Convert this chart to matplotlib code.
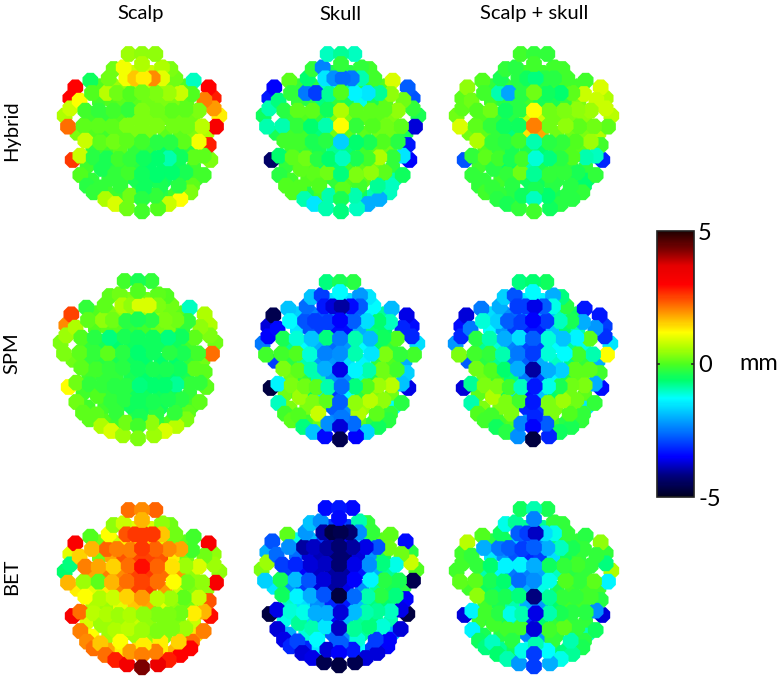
import numpy as np
import matplotlib
matplotlib.use("Agg")
import matplotlib.pyplot as plt
from matplotlib.cm import ScalarMappable
from matplotlib.colors import LinearSegmentedColormap, Normalize

plt.rcParams["font.family"] = ["Lato", "DejaVu Sans"]

row_labels = ["Hybrid", "SPM", "BET"]
col_labels = ["Scalp", "Skull", "Scalp + skull"]

# electrode positions on the head map, one line per row of electrodes
electrode_x = [
    -40, 0, 40,
    -85, -55, 0, 60, 85,
    -155, -100, -47, -20, 5, 32, 60, 100, 155,
    -150, -105, -75, -35, 0, 40, 80, 115, 150,
    -170, -130, -85, -40, 0, 45, 90, 130, 170,
    -175, -130, -90, -45, 0, 45, 95, 135, 180,
    -170, -125, -85, -45, 0, 45, 85, 125, 170,
    -145, -105, -70, -35, 5, 45, 80, 115, 155,
    -185, -120, -80, -40, 0, 45, 90, 130, 185,
    -165, -125, -65, 5, 55, 110, 150,
    -145, -110, -80, -35, 0, 40, 80, 115, 145,
    -45, 0, 48,
    -200, -215, -187, -215, -232, -222,
    200, 215, 187, 215, 232, 222,
    -208, -185, 185, 205, 200,
]
electrode_y = [
    0, 0, 0,
    45, 40, 30, 40, 45,
    80, 73, 73, 73, 73, 73, 73, 73, 80,
    117, 117, 117, 120, 115, 117, 117, 117, 120,
    170, 170, 170, 167, 170, 170, 170, 167, 170,
    215, 215, 217, 215, 215, 215, 215, 217, 217,
    260, 265, 263, 260, 263, 265, 265, 263, 263,
    310, 313, 315, 315, 313, 313, 313, 310, 310,
    363, 345, 360, 355, 360, 363, 355, 355, 363,
    395, 400, 395, 405, 395, 395, 395,
    415, 435, 450, 425, 435, 425, 450, 435, 415,
    463, 472, 463,
    100, 133, 140, 163, 185, 218,
    100, 133, 138, 163, 185, 218,
    318, 305, 305, 318, 273,
]

# electrodes mostly hidden under the others, only seen in the small gaps
hidden_x = [
    -25, 25,
    -125, -85, -45, -15, 20, 60, 95, 135,
    -128, -90, -55, -18, 20, 60, 100, 135,
    -150, -108, -65, -22, 22, 68, 112, 152,
    -195, -150, -108, -68, -22, 22, 70, 115, 158, 195,
    -148, -105, -65, -22, 22, 65, 105, 148,
    -165, -125, -90, -55, -18, 22, 65, 110, 155,
    -150, -100, -60, -20, 25, 70, 115, 160,
    -100, -60, -18, 20, 60, 100,
]
hidden_y = [
    55, 55,
    95, 95, 95, 95, 95, 95, 95, 95,
    143, 143, 143, 143, 143, 143, 143, 143,
    192, 192, 192, 192, 192, 192, 192, 192,
    238, 238, 238, 238, 238, 238, 238, 238, 238, 238,
    288, 288, 288, 288, 288, 288, 288, 288,
    338, 338, 338, 338, 338, 338, 338, 338, 338,
    378, 378, 378, 378, 378, 378, 378, 378,
    420, 420, 420, 420, 420, 420,
]

hybrid_scalp = [
    0.5, 0.4, 0.4,
    0.2, 1.1, 0.6, 0.6, 0.3,
    -0.5, 0.2, 1.1, 1.6, 1.3, 2.0, 1.0, 0.2, -1.0,
    0.0, 0.7, 0.2, 0.0, 0.2, 0.3, 0.5, 0.8, 0.0,
    -0.1, -0.2, -0.1, -0.2, 0.3, 0.2, 0.1, 0.1, 0.3,
    0.1, 0.1, 0.1, 0.3, 0.3, 0.3, 0.2, 0.2, 0.7,
    0.8, 0.1, 0.2, 0.1, -0.1, -0.3, -0.3, 0.1, 1.1,
    -0.3, -0.4, -0.1, -0.2, -0.5, -0.6, -0.9, -0.5, 0.1,
    0.0, -0.4, -0.2, -0.1, -0.5, -0.6, -0.6, -0.4, -0.1,
    -0.3, -0.2, -0.2, -0.5, -0.4, -0.3, 0.1,
    -0.2, 0.6, 0.9, 0.2, -0.3, -0.2, 0.8, 1.2, 0.3,
    0.2, -0.1, 0.0,
    3.0, 3.0, 1.2, 0.8, 0.6, 2.2,
    3.0, 2.8, 2.1, 1.9, 1.3, 3.2,
    2.6, 0.8, 0.1, 0.3, 2.8,
]
hybrid_skull = [
    -1.0, -0.8, -1.0,
    -0.2, -2.4, -0.2, -0.2, -0.1,
    0.1, -0.6, -1.5, -2.3, -2.6, -2.5, -0.9, -0.1, 0.9,
    -0.2, -2.5, -3.0, -0.8, 0.0, -1.4, -1.5, -0.8, 0.4,
    -0.3, 0.1, 0.1, -0.5, 0.6, 0.1, 0.1, 0.1, 0.4,
    -0.9, -0.2, -0.6, -0.9, 1.2, -0.2, 0.0, 0.2, 0.1,
    -0.1, -0.1, -0.4, -0.3, -1.7, -0.6, -0.4, 0.0, -0.3,
    0.1, 0.2, -0.3, -0.6, -1.0, -0.4, -0.1, 0.6, -0.2,
    -0.3, 0.1, 0.1, 0.2, -0.7, 0.3, 0.4, 0.1, -0.5,
    0.0, 0.0, 0.0, 0.1, -0.1, -0.8, -1.0,
    0.0, -0.9, -1.5, -0.9, -0.4, -0.9, -2.0, -2.0, -1.0,
    -0.9, -0.7, -1.0,
    -3.5, -3.3, -0.7, -0.9, -0.5, -0.9,
    -2.7, -2.8, 0.2, -0.2, -0.4, -3.7,
    -4.4, -0.6, -1.5, -3.5, -3.3,
]
hybrid_both = [
    -0.1, -0.2, -0.2,
    -0.2, -0.3, -0.1, -0.1, -0.1,
    0.0, -0.4, -0.3, -0.5, -0.7, -0.3, -0.3, -0.1, -0.1,
    -0.1, -0.9, -2.1, -0.3, 0.2, -0.5, -0.6, 0.1, 0.8,
    0.0, 0.2, -0.5, -0.3, 1.2, 0.2, 0.3, 0.4, 0.5,
    0.1, -0.2, -0.5, -0.5, 2.1, 0.2, 0.4, 0.1, 0.2,
    0.6, -0.2, -0.3, -0.1, -0.9, -0.3, -0.2, 0.0, 0.5,
    0.1, -0.1, -0.4, -0.1, -1.1, -0.7, -0.3, 0.0, -0.9,
    -0.2, -0.3, -0.2, 0.2, -0.8, -0.2, -0.2, -0.4, -0.2,
    -0.2, -0.2, -0.3, -0.4, -0.3, -0.3, -0.6,
    -0.1, -0.3, -0.4, -0.5, -1.0, -0.6, -0.3, -0.3, -0.2,
    -0.2, -0.1, -0.5,
    0.4, 0.1, 0.2, 0.1, 0.2, 0.9,
    0.9, 0.6, 0.8, 0.8, 0.7, 0.1,
    -2.8, -0.2, -1.0, -3.2, -0.1,
]
spm_scalp = [
    -0.1, -0.4, -0.2,
    0.1, 0.2, 0.0, 0.1, 0.0,
    -0.2, 0.1, 0.6, 0.4, 0.9, 0.9, 0.3, 0.2, -1.0,
    0.1, 0.4, 0.2, -0.3, -0.4, -0.3, 0.3, 0.2, -0.2,
    0.0, -0.3, -0.7, -0.4, -0.5, -0.5, -0.7, -0.5, 0.1,
    0.1, -0.2, 0.1, -0.3, -0.6, -0.5, -0.3, -0.4, -0.1,
    0.1, -0.1, -0.2, -0.3, -0.5, -0.4, -0.4, -0.5, 0.1,
    -0.2, -0.2, -0.3, -0.3, -0.7, -0.6, -0.6, -0.8, -0.2,
    0.2, 0.0, -0.2, -0.3, -0.5, -0.4, -0.4, -0.3, 0.1,
    0.1, 0.1, -0.2, -0.4, -0.3, -0.2, 0.1,
    0.1, 0.6, 0.9, 0.2, -0.1, 0.4, 0.9, 0.7, 0.3,
    0.5, 0.3, 0.5,
    2.5, 2.0, 0.6, 0.5, 0.3, 0.3,
    0.6, 0.6, 0.4, 0.3, 0.2, 2.2,
    1.2, 0.2, -0.2, 0.1, 0.1,
]
spm_skull = [
    -0.7, -0.4, -0.3,
    -1.8, -3.0, -1.3, -2.2, -1.5,
    -1.8, -2.6, -3.3, -3.7, -4.0, -3.4, -2.7, -1.3, -1.9,
    -1.3, -2.8, -3.0, -3.0, -3.5, -2.7, -1.6, -0.6, -1.0,
    -0.4, -1.1, -1.8, -0.7, -2.5, -0.9, -1.9, -0.5, 0.0,
    -0.1, 0.0, -1.1, -2.4, -2.3, -0.9, -1.5, 0.3, -0.2,
    0.3, 0.1, -0.9, -2.0, -3.6, -1.4, -0.9, 0.2, -0.1,
    0.3, 0.2, 0.1, -0.9, -2.6, -0.7, 0.0, 0.5, 0.7,
    -1.0, 0.5, 0.3, 0.1, -2.7, 0.4, 0.7, 0.4, -0.3,
    -0.1, 0.0, 0.8, -2.5, 0.6, 0.1, -0.2,
    0.1, -0.7, -1.8, -2.3, -3.7, -2.6, -1.7, -0.5, -0.3,
    -3.4, -4.6, -3.5,
    -4.6, -3.7, -3.4, -3.5, -2.5, -0.1,
    -3.6, -3.4, -3.2, -3.2, -1.6, -0.1,
    -4.7, -1.4, -1.8, -3.6, -1.7,
]
spm_both = [
    -0.7, -0.6, -0.5,
    -1.7, -2.8, -1.3, -2.0, -0.7,
    -2.5, -2.0, -3.0, -3.0, -3.6, -2.7, -1.2, -0.3, -3.3,
    -1.1, -1.7, -2.7, -3.0, -3.5, -3.0, -1.0, -0.4, -2.0,
    -0.3, -0.9, -2.0, -1.6, -2.7, -1.1, -1.8, -1.4, 0.1,
    -0.1, -0.2, -0.9, -2.5, -3.0, -1.1, -1.3, -0.1, -0.9,
    0.2, 0.0, -0.6, -2.0, -4.0, -2.0, -1.7, 0.1, 0.1,
    0.3, 0.3, -0.1, -1.0, -3.3, -1.2, -0.4, 0.2, 0.3,
    -0.9, 0.6, 0.3, -0.1, -3.3, 0.3, 0.5, 0.2, -0.2,
    0.0, -0.1, 0.3, -3.2, 0.3, 0.0, -0.2,
    -0.1, -0.5, -0.3, -2.4, -3.5, -2.7, -0.5, -0.4, -0.2,
    -2.3, -4.7, -3.2,
    -3.7, -3.4, -2.5, -3.2, -2.2, 0.3,
    -3.3, -3.0, -2.2, -3.1, -1.5, 1.2,
    -3.7, -0.8, -2.0, -3.4, -0.1,
]
bet_scalp = [
    2.2, 2.0, 2.3,
    0.4, 0.8, 1.7, 0.4, 0.2,
    0.0, 1.2, 2.4, 2.6, 2.6, 2.6, 1.6, 0.2, -0.1,
    1.7, 2.3, 2.1, 2.1, 2.6, 2.3, 2.0, 1.8, -0.1,
    2.1, 1.8, 1.5, 2.2, 2.9, 2.3, 1.4, 0.5, 0.9,
    0.5, 0.1, 1.7, 2.2, 2.5, 2.2, 1.2, 0.2, 0.4,
    1.2, 0.6, 0.8, 1.5, 1.9, 0.7, 0.5, 0.1, 0.8,
    0.7, 0.6, 0.5, 0.6, 0.4, 0.3, 0.3, 0.2, 1.3,
    2.1, 0.5, 0.6, 0.7, 0.5, 0.3, 0.3, 0.5, 2.1,
    2.0, 1.6, 1.2, 1.3, 1.3, 1.5, 2.2,
    2.2, 2.2, 2.8, 1.9, 2.1, 2.1, 2.8, 3.0, 3.0,
    3.3, 4.3, 3.5,
    3.1, 1.0, 1.5, -0.7, -0.6, 1.7,
    3.2, 0.4, 0.2, 0.5, 0.4, 3.2,
    3.2, 2.2, 1.7, 2.9, 2.4,
]
bet_skull = [
    -3.4, -3.3, -3.4,
    -1.8, -2.3, -3.4, -0.9, -0.2,
    0.1, -2.2, -4.0, -4.7, -4.6, -4.3, -2.3, -0.2, 0.1,
    -2.3, -4.0, -3.8, -4.0, -4.3, -4.0, -3.6, -2.8, 0.2,
    -3.0, -3.2, -3.7, -3.8, -4.3, -3.6, -2.3, -0.7, -1.2,
    -0.4, -1.9, -2.8, -3.7, -4.0, -3.5, -1.4, -0.3, -0.4,
    -0.5, -1.4, -2.0, -2.8, -4.7, -2.6, -0.9, -0.3, -0.7,
    -1.1, -1.2, -2.0, -2.0, -3.7, -1.9, -0.9, -0.8, -1.0,
    -3.7, -0.8, -0.9, -1.5, -3.8, -0.8, -0.7, -1.1, -3.7,
    -3.6, -2.9, -1.3, -2.7, -1.1, -3.0, -3.5,
    -3.2, -3.7, -3.6, -3.7, -3.5, -3.3, -3.7, -3.7, -3.5,
    -4.6, -4.7, -4.6,
    -2.8, -2.0, -2.6, 0.5, 0.3, -1.7,
    -3.4, -0.3, 0.2, 0.8, 0.0, -4.6,
    -4.7, -3.6, -3.6, -4.7, -3.5,
]
bet_both = [
    -0.5, -0.9, -0.4,
    -1.2, -0.8, -2.4, -0.2, -0.2,
    0.0, -0.5, -2.7, -3.0, -3.8, -1.6, -1.2, -0.2, -0.3,
    -2.0, -2.5, -2.7, -3.0, -2.7, -2.0, -1.0, -0.4, -0.2,
    -0.2, -0.6, -1.4, -1.4, -2.0, -0.5, -0.2, -0.1, -0.2,
    0.1, -0.4, -0.6, -2.6, -2.3, -1.2, 0.0, -0.2, 0.1,
    0.4, -0.3, -0.4, -0.7, -4.2, -0.8, -0.2, -0.2, -0.1,
    -0.1, -0.3, -1.2, -0.9, -3.6, -0.9, -0.4, -0.3, -0.3,
    -1.4, -0.1, -0.1, -0.1, -3.7, -0.1, 0.1, -0.2, -0.5,
    -0.5, -1.0, -0.3, -0.9, -0.2, -0.9, -0.3,
    -0.7, -0.6, -0.9, -1.2, -3.0, -1.3, -1.2, -0.8, -0.4,
    -2.2, -3.0, -2.0,
    0.7, -0.1, -0.2, -0.1, -0.1, 0.1,
    0.4, -0.2, -0.2, -0.7, 0.6, -1.4,
    -3.7, -1.4, -2.3, -3.7, -0.3,
]

hybrid_scalp_hidden = [
    0.8, 0.8,
    0.0, 0.5, 0.4, 0.6, 0.7, 0.5, 0.3, 0.0,
    -0.1, 0.0, 0.1, 0.1, 0.2, 0.3, 0.3, 0.1,
    -0.1, -0.2, 0.0, 0.3, 0.3, 0.2, 0.2, 0.2,
    0.3, 0.0, -0.1, 0.1, 0.3, 0.3, 0.1, 0.1, 0.3, 0.6,
    -0.2, -0.1, 0.1, -0.2, -0.2, -0.6, -0.5, -0.3,
    -0.1, -0.3, -0.3, -0.2, -0.3, -0.6, -0.6, -0.5, -0.1,
    -0.2, -0.2, -0.1, -0.4, -0.5, -0.5, -0.4, -0.1,
    -0.1, -0.1, -0.3, -0.5, -0.3, -0.1,
]
hybrid_skull_hidden = [
    -0.4, -0.3,
    -0.2, -0.3, -1.0, -1.3, -0.8, -0.3, -0.2, 0.0,
    -0.2, -0.3, -0.7, -0.2, -0.4, -1.2, -0.4, 0.1,
    -0.2, 0.0, -0.2, 0.3, 0.3, 0.1, 0.1, 0.3,
    -0.4, -0.1, -0.1, -0.7, 0.2, 0.1, 0.1, 0.2, 0.2, -0.4,
    -0.1, -0.2, -0.4, -0.8, -0.7, -0.1, 0.1, 0.2,
    -0.2, -0.1, 0.0, -0.7, -0.7, -0.1, 0.1, 0.2, -0.2,
    -0.1, 0.0, -0.1, -0.2, 0.0, 0.1, -0.2, -0.9,
    -0.4, -0.1, -0.3, -0.4, -0.5, -0.9,
]
hybrid_both_hidden = [
    -0.1, -0.1,
    -0.2, -0.2, -0.3, -0.3, -0.3, -0.2, -0.1, -0.1,
    -0.1, -0.3, -0.3, -0.1, -0.4, -0.4, -0.2, 0.3,
    0.0, -0.2, -0.3, 0.8, 0.8, 0.2, 0.3, 0.4,
    0.2, 0.1, -0.2, -0.7, 1.4, 1.8, 0.2, 0.2, 0.3, 0.6,
    0.0, -0.2, -0.4, -0.4, -0.6, -0.2, 0.0, 0.1,
    -0.1, -0.2, -0.6, -0.6, -0.9, -0.4, -0.2, -0.2, -0.2,
    -0.2, -0.1, -0.1, -0.5, -0.5, -0.3, -0.3, -0.6,
    -0.2, -0.3, -0.5, -0.7, -0.4, -0.3,
]
spm_scalp_hidden = [
    0.3, 0.2,
    0.0, 0.3, 0.5, 0.6, 0.6, 0.5, 0.2, 0.1,
    0.0, 0.1, 0.1, -0.2, -0.1, 0.2, 0.3, -0.2,
    -0.2, -0.4, -0.6, -0.5, -0.5, -0.5, -0.5, -0.1,
    0.2, -0.2, -0.3, -0.4, -0.5, -0.6, -0.6, -0.6, -0.2, 0.2,
    -0.1, -0.2, -0.2, -0.4, -0.6, -0.5, -0.6, -0.4,
    -0.1, -0.1, -0.2, -0.3, -0.5, -0.5, -0.5, -0.5, -0.2,
    -0.1, -0.1, -0.3, -0.5, -0.5, -0.5, -0.4, -0.1,
    0.0, -0.1, -0.3, -0.3, -0.2, 0.0,
]
spm_skull_hidden = [
    -1.5, -1.6,
    -1.7, -2.4, -2.8, -2.4, -2.4, -2.6, -1.3, -0.8,
    -1.5, -2.8, -3.0, -3.4, -3.4, -2.0, -0.7, -0.6,
    -0.8, -1.3, -2.0, -2.6, -2.2, -1.3, -0.6, -0.2,
    -3.0, -0.3, -0.9, -2.2, -2.2, -1.6, -1.4, -0.2, 0.0, -2.0,
    0.2, -0.2, -0.9, -2.3, -2.3, -1.1, -0.4, 0.2,
    0.2, 0.1, -0.5, -1.5, -3.0, -1.3, -0.3, 0.3, 0.2,
    0.3, 0.3, 0.1, -2.7, -2.3, 0.5, 0.4, -1.3,
    -0.1, 0.2, -2.4, -2.6, 0.1, -0.2,
]
spm_both_hidden = [
    -1.5, -1.4,
    -1.6, -2.3, -2.6, -2.2, -2.2, -1.8, -0.9, -0.5,
    -1.3, -2.2, -3.0, -3.3, -3.3, -1.8, -0.6, -0.9,
    -0.8, -1.1, -2.4, -2.9, -3.0, -1.3, -0.8, -1.2,
    -2.7, -0.3, -0.8, -2.4, -2.7, -2.0, -1.0, -0.7, -0.2, -2.0,
    0.2, -0.1, -0.7, -2.5, -3.0, -1.4, -0.4, 0.1,
    0.1, 0.1, -0.4, -1.6, -3.4, -1.8, -0.6, 0.2, 0.1,
    0.3, 0.3, 0.0, -3.2, -3.0, 0.3, 0.3, -1.5,
    -0.1, 0.0, -2.2, -3.0, -0.1, -0.3,
]
bet_scalp_hidden = [
    1.0, 0.9,
    0.2, 0.8, 1.3, 1.6, 1.6, 1.0, 0.3, 0.1,
    0.2, 1.8, 2.4, 2.5, 2.5, 2.4, 1.3, 0.2,
    1.8, 2.1, 2.0, 2.5, 2.6, 2.2, 1.9, 0.4,
    1.3, 1.0, 1.3, 2.1, 2.5, 2.6, 1.9, 0.8, 0.3, 0.4,
    0.6, 0.5, 1.0, 1.6, 1.8, 1.0, 0.4, 0.2,
    0.9, 0.5, 0.5, 0.5, 0.8, 0.4, 0.3, 0.3, 0.8,
    1.2, 0.5, 0.4, 0.5, 0.4, 0.3, 0.4, 1.4,
    1.8, 1.3, 1.4, 1.4, 1.3, 1.7,
]
bet_skull_hidden = [
    -3.0, -3.0,
    -1.2, -1.9, -3.0, -3.8, -3.6, -1.8, -0.7, 0.1,
    -2.6, -3.7, -3.9, -4.3, -4.3, -3.7, -2.2, -0.4,
    -3.0, -3.5, -3.8, -4.0, -4.0, -3.3, -2.0, -0.8,
    -1.5, -2.3, -3.0, -3.7, -4.0, -3.6, -2.3, -0.8, -0.4, -0.3,
    -1.0, -1.6, -2.3, -3.2, -3.3, -1.9, -0.7, -0.6,
    -1.2, -1.2, -1.7, -2.3, -3.5, -1.9, -0.8, -0.7, -0.9,
    -2.0, -1.1, -0.9, -2.7, -2.3, -0.8, -0.9, -2.0,
    -3.2, -1.5, -2.7, -2.6, -1.3, -3.0,
]
bet_both_hidden = [
    -0.8, -0.8,
    -0.3, -0.5, -1.8, -2.6, -2.4, -0.7, -0.3, -0.2,
    -1.5, -2.3, -2.8, -3.2, -3.0, -1.6, -0.5, -0.2,
    -0.9, -1.4, -2.5, -2.4, -2.1, -1.0, -0.3, -0.2,
    -0.1, -0.5, -0.7, -1.6, -2.0, -1.2, -0.4, -0.1, -0.1, -0.1,
    -0.1, -0.4, -0.9, -2.0, -2.2, -0.6, -0.1, -0.1,
    -0.1, -0.2, -0.5, -0.9, -3.2, -0.6, -0.2, -0.2, -0.2,
    -0.4, -0.3, -0.3, -2.4, -2.2, -0.2, -0.3, -1.0,
    -0.8, -0.5, -1.3, -1.5, -0.6, -0.7,
]

panels = [
    [hybrid_scalp, hybrid_skull, hybrid_both],
    [spm_scalp, spm_skull, spm_both],
    [bet_scalp, bet_skull, bet_both],
]
panels_hidden = [
    [hybrid_scalp_hidden, hybrid_skull_hidden, hybrid_both_hidden],
    [spm_scalp_hidden, spm_skull_hidden, spm_both_hidden],
    [bet_scalp_hidden, bet_skull_hidden, bet_both_hidden],
]

# head centre and top electrode in picture pixels
panel_cx = [[142, 341, 534], [138, 340, 533], [142, 339, 534]]
panel_top = [[54, 54, 54], [281, 282, 282], [510, 508, 509]]

W, H = 780, 676

cmap = LinearSegmentedColormap.from_list("jet_dark", [
    (0.0, (0.0, 0.0, 0.12)),
    (0.08, (0.0, 0.0, 0.5)),
    (0.15, (0.0, 0.0, 1.0)),
    (0.25, (0.0, 0.47, 1.0)),
    (0.37, (0.0, 1.0, 1.0)),
    (0.44, (0.0, 1.0, 0.42)),
    (0.5, (0.3, 1.0, 0.12)),
    (0.56, (0.68, 1.0, 0.0)),
    (0.62, (1.0, 1.0, 0.0)),
    (0.7, (1.0, 0.55, 0.0)),
    (0.8, (1.0, 0.0, 0.0)),
    (0.87, (0.9, 0.0, 0.0)),
    (0.93, (0.5, 0.0, 0.0)),
    (1.0, (0.13, 0.0, 0.0)),
])
norm = Normalize(-5, 5)

fig = plt.figure(figsize=(W / 100, H / 100), dpi=100)

x = np.array(electrode_x)
y = np.array(electrode_y)
# inner electrodes sit on top of the outer ones
order = np.argsort(-np.abs(x), kind="stable")

for i in range(3):
    for j in range(3):
        left = panel_cx[i][j] - 90
        top = panel_top[i][j] - 40 / 3
        ax = fig.add_axes([left / W, 1 - (top + 180) / H, 180 / W, 180 / H])
        ax.scatter(hidden_x, hidden_y, c=panels_hidden[i][j], cmap=cmap, norm=norm,
                   s=130, marker="8", linewidths=0, clip_on=False)
        vals = np.array(panels[i][j])
        ax.scatter(x[order], y[order], c=vals[order], cmap=cmap, norm=norm,
                   s=150, marker="8", linewidths=0, clip_on=False)
        ax.set_xlim(-270, 270)
        ax.set_ylim(500, -40)
        ax.axis("off")

for name, cx in zip(col_labels, [141, 340, 534]):
    fig.text(cx / W, 1 - 14 / H, name, ha="center", va="center", fontsize=14.5)
for name, cy in zip(row_labels, [131, 353, 577]):
    fig.text(12 / W, 1 - cy / H, name, ha="center", va="center",
             rotation=90, fontsize=14.5)

cax = fig.add_axes([657 / W, 1 - 497 / H, 37 / W, 266 / H])
cb = fig.colorbar(ScalarMappable(norm=norm, cmap=cmap), cax=cax)
cb.set_ticks([-5, 0, 5])
cb.set_ticklabels(["-5", "0", "5"], fontsize=17)
cax.tick_params(axis="y", length=0, pad=3)
cb.outline.set_linewidth(1.2)
cb.outline.set_edgecolor("#222222")
for side in [(0, 0.05), (0.95, 1)]:
    cax.plot(side, [0, 0], color="#222222", lw=1.2, transform=cax.get_yaxis_transform())
fig.text(759 / W, 1 - 364 / H, "mm", ha="center", va="center", fontsize=17)

fig.savefig("out.png", dpi=100)
